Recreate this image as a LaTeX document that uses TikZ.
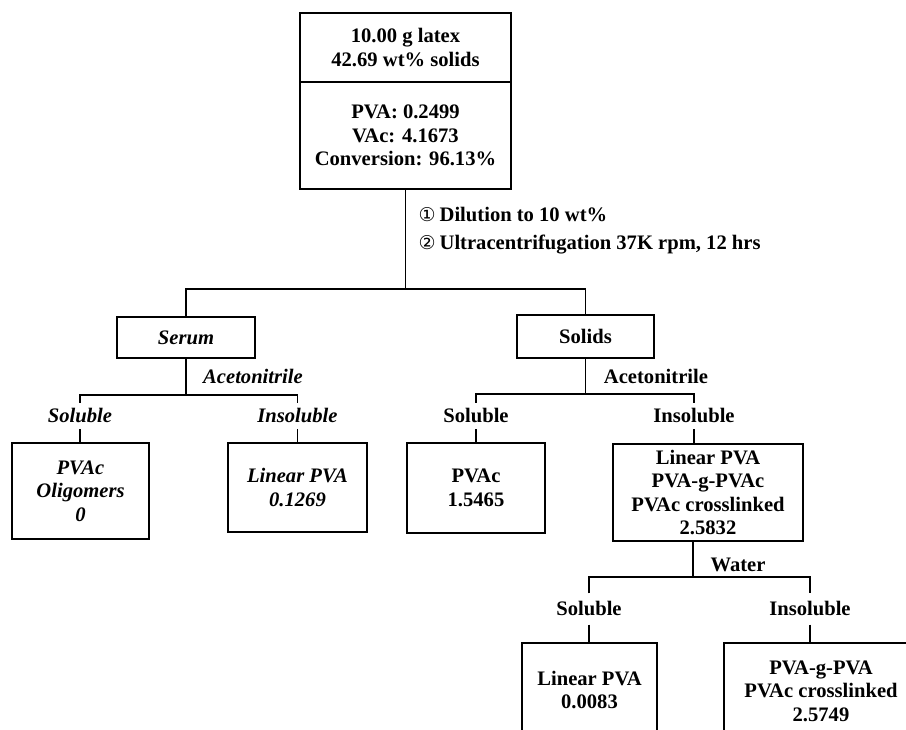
\documentclass[tikz,border=0pt]{standalone}
\usepackage{fontspec}
\setmainfont{Liberation Serif}
\newfontfamily\dejavu{DejaVu Sans}
\begin{document}
\begin{tikzpicture}[x=1pt,y=-1pt, line width=1.2pt,
  bf/.style={font=\bfseries\fontsize{20.6}{23.5}\selectfont},
  bfi/.style={font=\bfseries\itshape\fontsize{20.6}{23.5}\selectfont},
  box/.style={draw, align=center, inner sep=0pt, bf},
  ibox/.style={box, bfi},
  lbl/.style={inner xsep=3pt, inner ysep=5pt, text height=14pt, text depth=1pt, bf},
  ilbl/.style={lbl, bfi},
  steptext/.style={anchor=west, inner sep=0pt, bf}
]
\useasboundingbox (0,0) rectangle (906,730);
\clip (0,0) rectangle (906,730);

% top box
\node[box, minimum width=211pt, minimum height=69pt] (top1) at (405.5,47.5) {10.00 g latex\\42.69 wt\% solids};
\node[box, minimum width=211pt, minimum height=107pt] (top2) at (405.5,135.5) {PVA: 0.2499\\VAc: 4.1673\\Conversion: 96.13\%};

\node[steptext] (step1) at (418,214) {{\dejavu\mdseries\fontsize{19}{20}\selectfont ①}\hspace{4pt}Dilution to 10 wt\%};
\node[steptext] (step2) at (418,245) {{\dejavu\mdseries\fontsize{19}{20}\selectfont ②}\hspace{4pt}Ultracentrifugation 37K rpm, 12 hrs};

\coordinate (j1) at (405.5,289);

% serum branch
\node[ibox, minimum width=138pt, minimum height=41pt] (serum) at (186,337.5) {Serum};
\node[bfi, inner sep=0pt] (acet1) at (253,376) {Acetonitrile};
\coordinate (j2) at (186,395);
\node[ilbl] (sol1) at (80,416) {Soluble};
\node[ilbl] (ins1) at (297.5,416) {Insoluble};
\node[ibox, minimum width=137pt, minimum height=96pt] (box1) at (80.5,491) {PVAc\\Oligomers\\0};
\node[ibox, minimum width=139pt, minimum height=89pt] (box2) at (297.5,487.5) {Linear PVA\\0.1269};

% solids branch
\node[box, minimum width=137pt, minimum height=43pt] (solids) at (585.5,336.5) {Solids};
\node[bf, inner sep=0pt] (acet2) at (656,376) {Acetonitrile};
\coordinate (j3) at (585.5,394);
\node[lbl] (sol2) at (476,416) {Soluble};
\node[lbl] (ins2) at (694,416) {Insoluble};
\node[box, minimum width=138pt, minimum height=90pt] (box3) at (476,488) {PVAc\\1.5465};
\node[box, minimum width=190pt, minimum height=97pt] (box4) at (708,492.5) {Linear PVA\\PVA-g-PVAc\\PVAc crosslinked\\2.5832};

% water branch
\node[bf, inner sep=0pt] (water) at (738,565) {Water};
\coordinate (j4) at (693,577);
\node[lbl, inner ysep=7.5pt] (sol3) at (589,609) {Soluble};
\node[lbl, inner ysep=7.5pt] (ins3) at (810,609) {Insoluble};
\node[box, minimum width=135pt, minimum height=94pt] (box5) at (589.5,690) {Linear PVA\\0.0083};
\node[box, minimum width=194pt, minimum height=96pt] (box6) at (821,691) {PVA-g-PVA\\PVAc crosslinked\\2.5749};

% connectors
\draw (top2.south) -- (j1);
\draw (serum.north) |- (j1) -| (solids.north);
\draw (serum.south) -- (j2);
\draw (sol1.north) |- (j2) -| (ins1.north);
\draw (sol1.south) -- (sol1.south |- box1.north);
\draw (ins1.south) -- (ins1.south |- box2.north);
\draw (solids.south) -- (j3);
\draw (sol2.north) |- (j3) -| (ins2.north);
\draw (sol2.south) -- (sol2.south |- box3.north);
\draw (ins2.south) -- (ins2.south |- box4.north);
\draw (j4 |- box4.south) -- (j4);
\draw (sol3.north) |- (j4) -| (ins3.north);
\draw (sol3.south) -- (sol3.south |- box5.north);
\draw (ins3.south) -- (ins3.south |- box6.north);
\end{tikzpicture}
\end{document}
